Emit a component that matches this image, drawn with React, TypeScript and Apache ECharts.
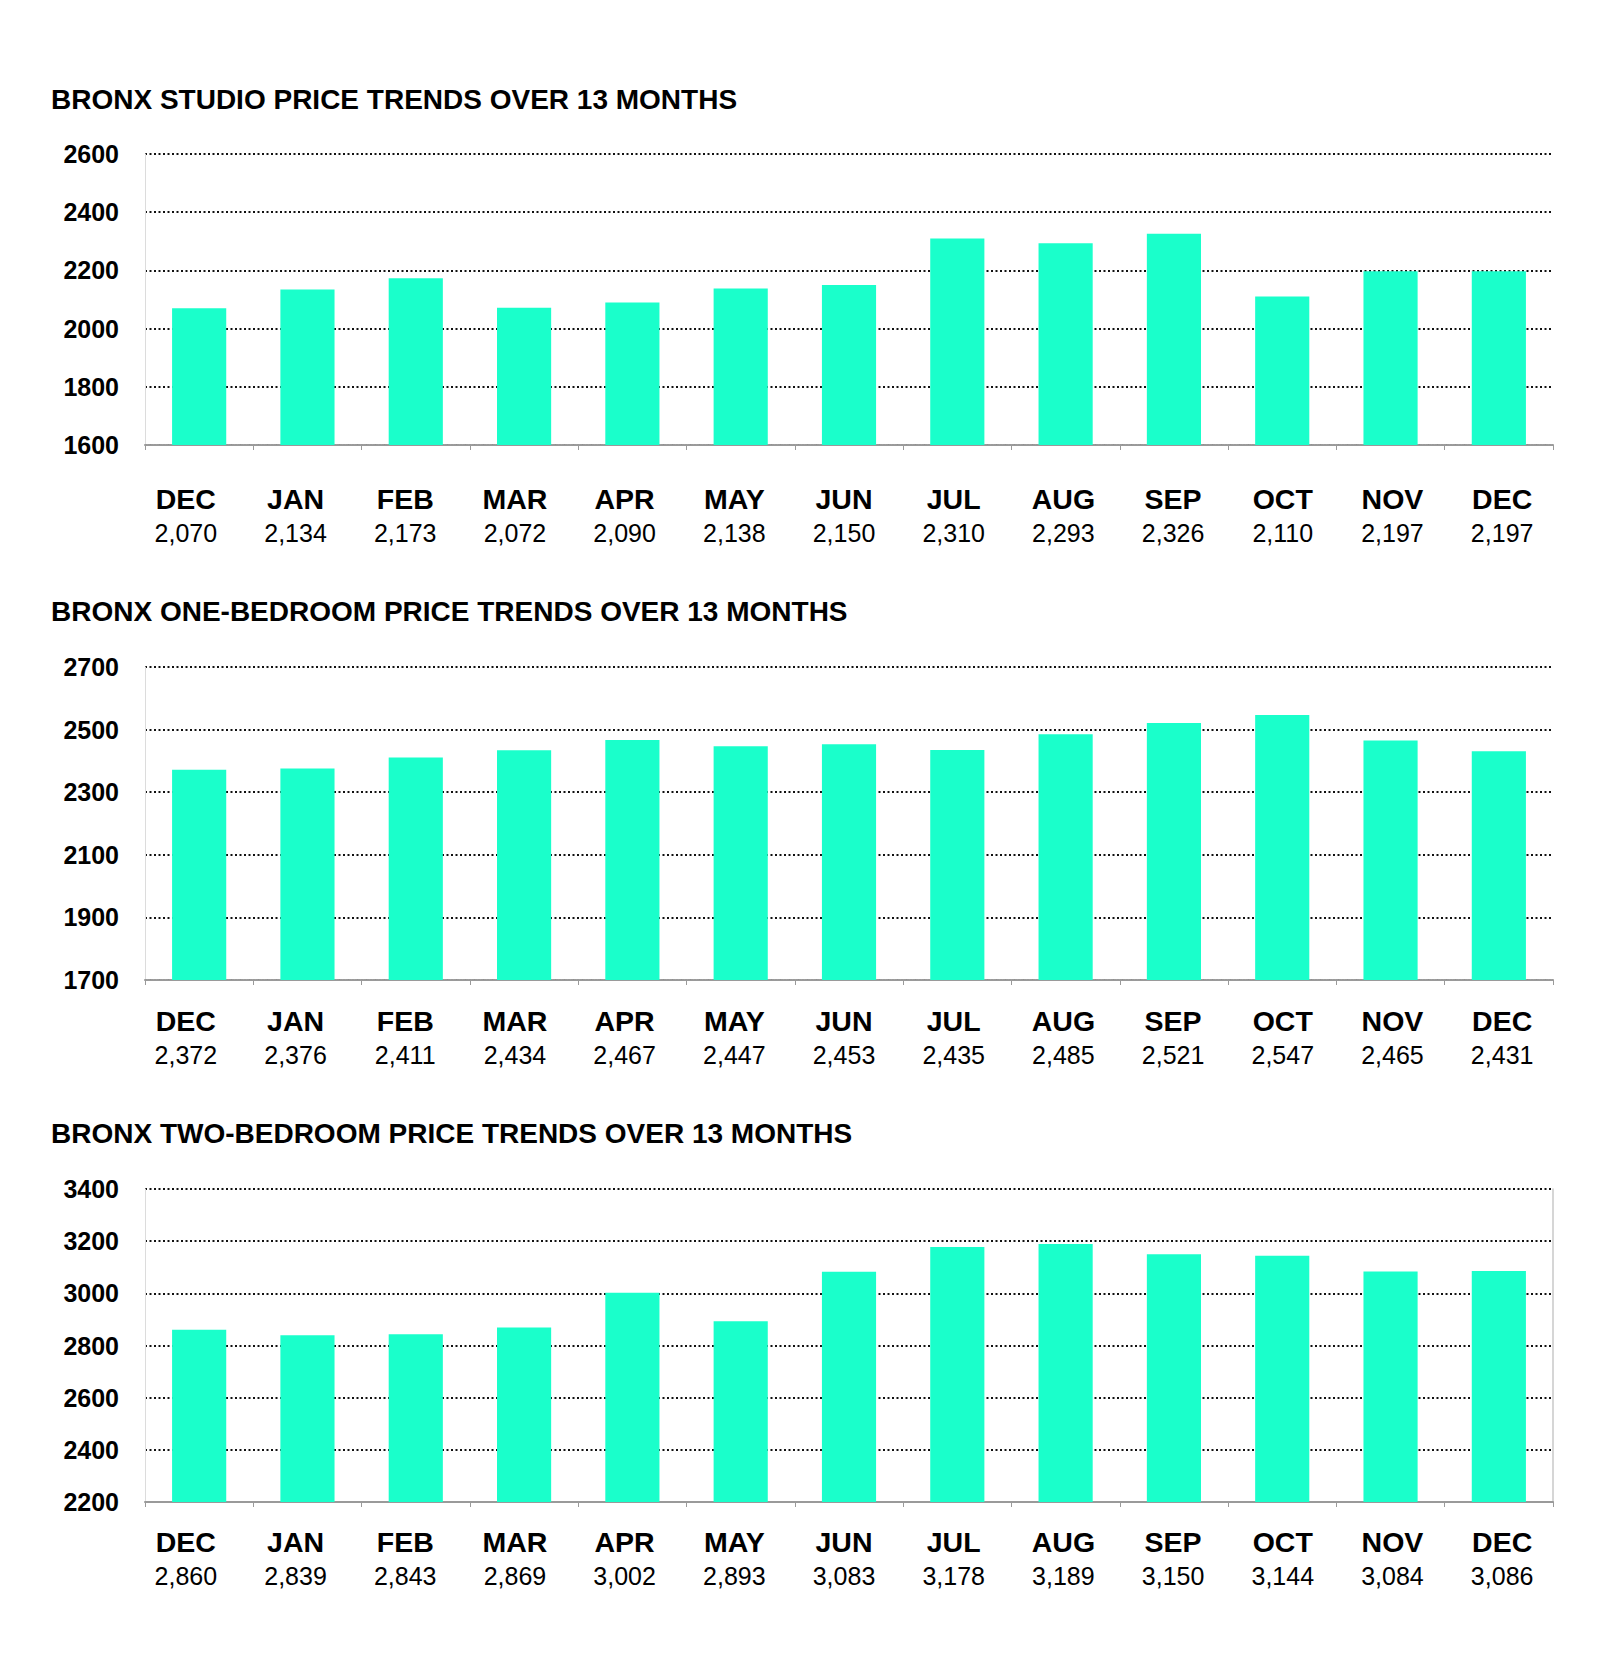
import React, { useEffect, useRef } from "react";
import * as echarts from "echarts";

const months = ["DEC", "JAN", "FEB", "MAR", "APR", "MAY", "JUN", "JUL", "AUG", "SEP", "OCT", "NOV", "DEC"];

const studioValues = [2070, 2134, 2173, 2072, 2090, 2138, 2150, 2310, 2293, 2326, 2110, 2197, 2197];
const oneBedValues = [2372, 2376, 2411, 2434, 2467, 2447, 2453, 2435, 2485, 2521, 2547, 2465, 2431];
const twoBedValues = [2860, 2839, 2843, 2869, 3002, 2893, 3083, 3178, 3189, 3150, 3144, 3084, 3086];

const titles = [
  "BRONX STUDIO PRICE TRENDS OVER 13 MONTHS",
  "BRONX ONE-BEDROOM PRICE TRENDS OVER 13 MONTHS",
  "BRONX TWO-BEDROOM PRICE TRENDS OVER 13 MONTHS",
];

const yMins = [1600, 1700, 2200];
const yMaxs = [2600, 2700, 3400];
const yInterval = 200;

const FONT = "'Liberation Sans', Arial, Helvetica, sans-serif";
const BAR = "#1AFFCB";

export default function App() {
  const ref = useRef<HTMLDivElement>(null);

  useEffect(() => {
    if (!ref.current) return;
    const chart = echarts.init(ref.current, undefined, { renderer: "svg" });
    const seriesData = [studioValues, oneBedValues, twoBedValues];
    const tops = [154, 667, 1189];
    const heights = [291, 313, 313];
    const titleTops = [85, 597, 1119];
    const labelMargins = [37, 24, 23];

    const plotGrids = tops.map((t, i) => ({ left: 145, right: 47, top: t, height: heights[i] }));
    const labelGrids = tops.map((t, i) => ({ left: 131, right: 43, top: t, height: heights[i] }));

    const plotX = seriesData.map((_, i) => ({
      type: "category",
      gridIndex: i,
      data: months,
      boundaryGap: true,
      axisLine: {
        show: true,
        lineStyle: { color: "#9a9a9a", width: 2, type: i === 2 ? "solid" : [2, 1] },
      },
      axisTick: { show: true, length: 5, lineStyle: { color: "#9a9a9a", width: 1 } },
      axisLabel: { show: false },
      splitLine: { show: false },
    }));

    const labelX = seriesData.map((vals, i) => ({
      type: "category",
      gridIndex: 3 + i,
      data: months,
      boundaryGap: true,
      axisLine: { show: false },
      axisTick: { show: false },
      splitLine: { show: false },
      axisLabel: {
        interval: 0,
        margin: labelMargins[i],
        formatter: (value: string, idx: number) =>
          `{m|${value}}\n{v|${vals[idx].toLocaleString("en-US")}}`,
        rich: {
          m: { fontFamily: FONT, fontWeight: "bold", fontSize: 28.5, color: "#000", lineHeight: 34 },
          v: { fontFamily: FONT, fontWeight: "normal", fontSize: 25, color: "#000", lineHeight: 34 },
        },
      },
    }));

    const plotY = seriesData.map((_, i) => ({
      type: "value",
      gridIndex: i,
      min: yMins[i],
      max: yMaxs[i],
      interval: yInterval,
      axisLine: { show: true, lineStyle: { color: "#dcdcdc", width: 1 } },
      axisTick: { show: false },
      axisLabel: {
        margin: 26,
        fontFamily: FONT,
        fontWeight: "bold",
        fontSize: 25,
        color: "#000",
        formatter: (v: number) => String(v),
      },
      splitLine: {
        show: true,
        lineStyle: { color: "#111", width: 2, type: [2, 2.5] },
      },
    }));

    const labelY = seriesData.map((_, i) => ({
      type: "value",
      gridIndex: 3 + i,
      min: yMins[i],
      max: yMaxs[i],
      show: false,
      splitLine: { show: false },
    }));

    const rightBorderY = {
      type: "value",
      gridIndex: 2,
      position: "right",
      min: yMins[2],
      max: yMaxs[2],
      interval: yInterval,
      axisLine: { show: true, lineStyle: { color: "#c8c8c8", width: 1.5 } },
      axisTick: { show: false },
      axisLabel: { show: false },
      splitLine: { show: false },
    };

    const option: any = {
      animation: false,
      backgroundColor: "#ffffff",
      title: titles.map((t, i) => ({
        text: t,
        left: 51,
        top: titleTops[i],
        padding: 0,
        textStyle: { fontFamily: FONT, fontWeight: "bold", fontSize: 28, color: "#000" },
      })),
      grid: [...plotGrids, ...labelGrids],
      xAxis: [...plotX, ...labelX],
      yAxis: [...plotY, ...labelY, rightBorderY],
      series: seriesData.map((vals, i) => ({
        type: "bar",
        xAxisIndex: i,
        yAxisIndex: i,
        data: vals,
        barWidth: "50%",
        itemStyle: { color: BAR },
        silent: true,
      })),
    };

    chart.setOption(option);
    return () => {
      chart.dispose();
    };
  }, []);

  return (
    <div
      ref={ref}
      style={{ position: "absolute", left: 0, top: 0, width: 1600, height: 1662, background: "#fff" }}
    />
  );
}
